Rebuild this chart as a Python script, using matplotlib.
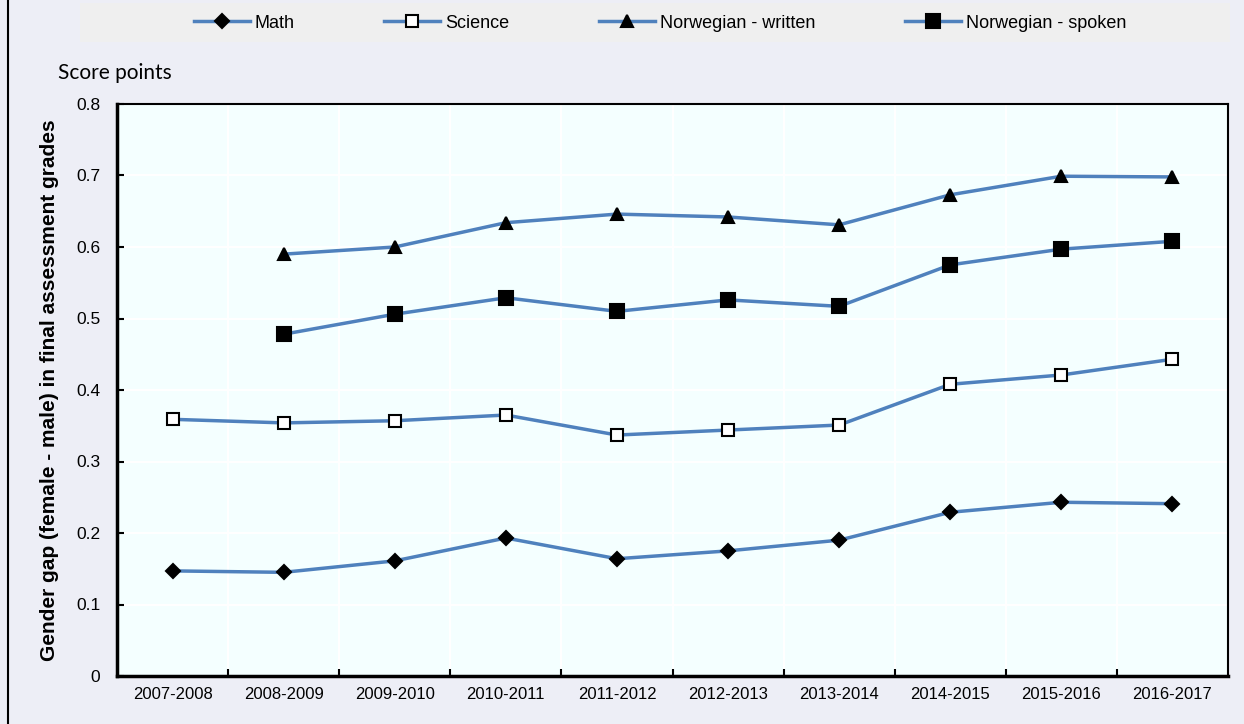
import numpy as np
import matplotlib.pyplot as plt
from matplotlib.lines import Line2D
from matplotlib.patches import Rectangle

plt.rcParams['font.family'] = ['Liberation Sans', 'DejaVu Sans']

years = ['2007-2008', '2008-2009', '2009-2010', '2010-2011', '2011-2012',
         '2012-2013', '2013-2014', '2014-2015', '2015-2016', '2016-2017']
math = [0.147, 0.145, 0.161, 0.193, 0.164, 0.175, 0.190, 0.229, 0.243, 0.241]
science = [0.359, 0.354, 0.357, 0.365, 0.337, 0.344, 0.351, 0.408, 0.421, 0.443]
nor_written = [np.nan, 0.590, 0.600, 0.634, 0.646, 0.642, 0.631, 0.673, 0.699, 0.698]
nor_spoken = [np.nan, 0.478, 0.506, 0.529, 0.510, 0.526, 0.517, 0.575, 0.597, 0.608]

blue = '#4F81BD'
bg = '#EDEEF6'

fig = plt.figure(figsize=(12.44, 7.24), dpi=100, facecolor=bg)
ax = fig.add_axes([117/1244, 1-676/724, (1228-117)/1244, (676-104)/724])
ax.set_facecolor('#F4FFFF')

x = np.arange(len(years))
series = [
    (math, 'Math', 'D', 'black', 7),
    (science, 'Science', 's', 'white', 9),
    (nor_written, 'Norwegian - written', '^', 'black', 9),
    (nor_spoken, 'Norwegian - spoken', 's', 'black', 10),
]
handles = []
for vals, name, mk, fc, ms in series:
    ax.plot(x, vals, color=blue, lw=2.5, marker=mk, markersize=ms,
            markerfacecolor=fc, markeredgecolor='black', markeredgewidth=1.5,
            zorder=3)
    handles.append(Line2D([], [], color=blue, lw=2.5, marker=mk, markersize=ms,
                          markerfacecolor=fc, markeredgecolor='black',
                          markeredgewidth=1.5, label=name))

ax.set_xlim(-0.5, len(years) - 0.5)
ax.set_ylim(0, 0.8)
ax.set_yticks(np.arange(0, 0.81, 0.1))
ax.set_yticklabels(['0'] + ['%.1f' % v for v in np.arange(0.1, 0.81, 0.1)])
ax.set_xticks(x)
ax.set_xticklabels(years)
ax.set_xticks(np.arange(0.5, len(years) - 1, 1), minor=True)
ax.grid(which='major', axis='y', color='white', lw=1.5)
ax.grid(which='minor', axis='x', color='white', lw=1.5)
ax.set_axisbelow(True)
ax.tick_params(axis='x', which='major', length=0, labelsize=12, pad=8)
ax.tick_params(axis='x', which='minor', length=5, direction='in', width=1.5)
ax.tick_params(axis='y', length=5, direction='in', width=1.5, labelsize=12.5, pad=12)
for s in ax.spines.values():
    s.set_linewidth(1.5)
ax.spines['left'].set_linewidth(2.5)
ax.spines['bottom'].set_linewidth(2.5)

ax.set_ylabel('Gender gap (female - male) in final assessment grades',
              fontsize=15, fontweight='bold', labelpad=12)
fig.text(58/1244, 1-73/724, 'Score points', fontsize=15, va='center',
         family=['Lato', 'DejaVu Sans'])

# legend background band
fig.add_artist(Rectangle((80/1244, 1-42/724), (1230-80)/1244, 39/724,
                         transform=fig.transFigure, facecolor='#EFEFEF',
                         edgecolor='none', zorder=0))
fig.legend(handles=handles, loc='center', bbox_to_anchor=(660/1244, 1-23/724),
           ncol=4, frameon=False, fontsize=13, handlelength=3.1,
           columnspacing=5.0, handletextpad=0.25)

# left border line of the figure panel
fig.add_artist(Line2D([8/1244, 8/1244], [0, 1], color='black', lw=1.5,
                      transform=fig.transFigure))

fig.savefig('out.png', dpi=100, facecolor=bg)
